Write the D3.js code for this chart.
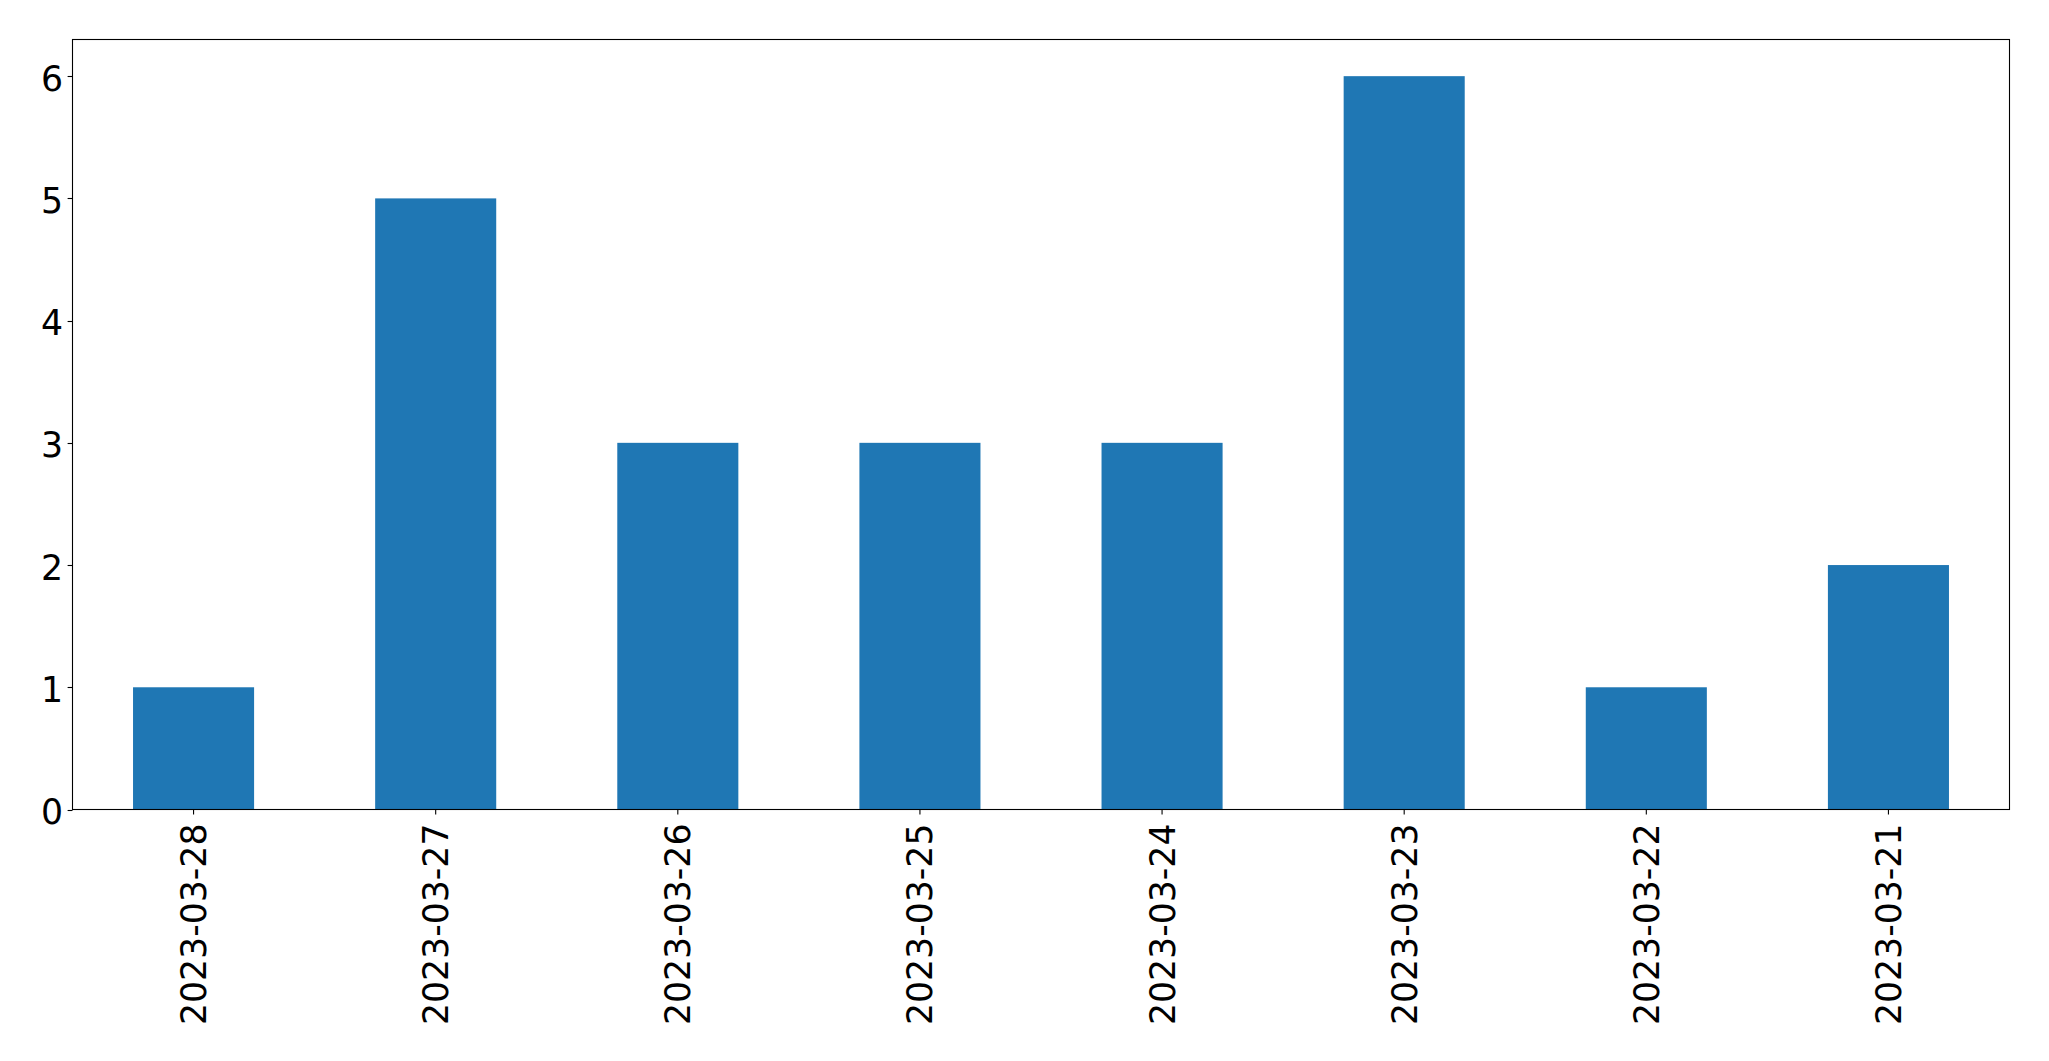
<!DOCTYPE html>
<html>
<head>
<meta charset="utf-8">
<script src="https://cdn.jsdelivr.net/npm/d3@7"></script>
<style>
  html, body { margin: 0; padding: 0; background: #fff; }
  svg { display: block; }
</style>
</head>
<body>
<script>
const categories = ["2023-03-28", "2023-03-27", "2023-03-26", "2023-03-25", "2023-03-24", "2023-03-23", "2023-03-22", "2023-03-21"];
const values = [1, 5, 3, 3, 3, 6, 1, 2];
const yTicks = [0, 1, 2, 3, 4, 5, 6];

const W = 2049, H = 1061;
const m = { left: 72.5, top: 39.5, right: 2009.5, bottom: 809.5 };
const font = "'DejaVu Sans', sans-serif";
const fs = 34.7;

const svg = d3.select("body").append("svg").attr("width", W).attr("height", H);

const x = d3.scaleBand().domain(categories).range([m.left, m.right]).paddingInner(0.5).paddingOuter(0.25);
const y = d3.scaleLinear().domain([0, 6.3]).range([m.bottom, m.top]);

// bars
svg.append("g").selectAll("rect").data(values).join("rect")
  .attr("x", (d, i) => x(categories[i]))
  .attr("width", x.bandwidth())
  .attr("y", d => y(d))
  .attr("height", d => y(0) - y(d))
  .attr("fill", "#1f77b4");

// frame
svg.append("rect")
  .attr("x", m.left).attr("y", m.top)
  .attr("width", m.right - m.left).attr("height", m.bottom - m.top)
  .attr("fill", "none").attr("stroke", "#000").attr("stroke-width", 1.1);

// y axis ticks + labels
const yg = svg.append("g");
yTicks.forEach(t => {
  const yy = Math.round(y(t)) + 0.5;
  yg.append("line").attr("x1", m.left - 4.9).attr("x2", m.left)
    .attr("y1", yy).attr("y2", yy).attr("stroke", "#000").attr("stroke-width", 1.1);
  yg.append("text").attr("x", m.left - 9.3).attr("y", y(t) + 14.5)
    .attr("text-anchor", "end").attr("font-family", font).attr("font-size", fs)
    .attr("fill", "#000").text(t);
});

// x axis ticks + labels
const xg = svg.append("g");
categories.forEach(c => {
  const cx = x(c) + x.bandwidth() / 2;
  xg.append("line").attr("x1", cx).attr("x2", cx)
    .attr("y1", m.bottom).attr("y2", m.bottom + 4.9)
    .attr("stroke", "#000").attr("stroke-width", 1.1);
  xg.append("text")
    .attr("transform", `translate(${cx + 12.5},${m.bottom + 14}) rotate(-90)`)
    .attr("text-anchor", "end").attr("font-family", font).attr("font-size", fs)
    .attr("fill", "#000").text(c);
});
</script>
</body>
</html>
